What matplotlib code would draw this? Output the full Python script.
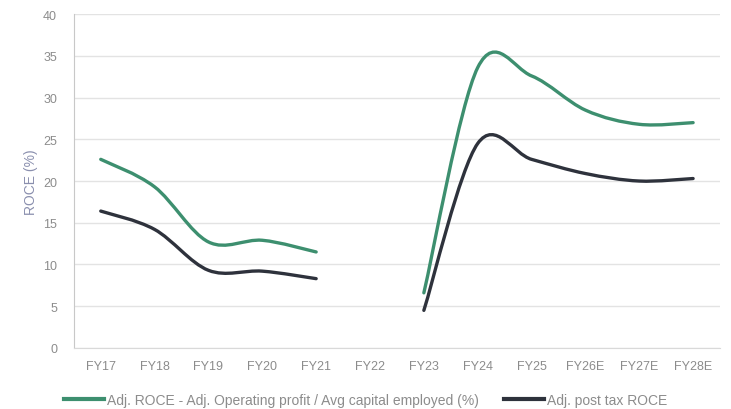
import numpy as np
import matplotlib
matplotlib.use("Agg")
import matplotlib.pyplot as plt
from matplotlib.path import Path
from matplotlib.patches import PathPatch
from matplotlib.lines import Line2D

# Data
years = ["FY17", "FY18", "FY19", "FY20", "FY21", "FY22", "FY23",
         "FY24", "FY25", "FY26E", "FY27E", "FY28E"]
adj_roce = [22.6, 19.3, 12.7, 12.9, 11.5, np.nan, 6.6,
            33.6, 32.6, 28.5, 26.8, 27.0]
post_tax_roce = [16.4, 14.2, 9.3, 9.2, 8.3, np.nan, 4.5,
                 24.5, 22.6, 20.9, 20.0, 20.3]

green = "#3d8f6f"
dark = "#2e323c"
grey_txt = "#8c8c8c"


def smooth_path(x, y):
    # Excel-style smoothed line: cubic Bezier through each run of valid points
    verts, codes = [], []
    x = np.asarray(x, float)
    y = np.asarray(y, float)
    ok = ~np.isnan(y)
    runs, cur = [], []
    for i in range(len(y)):
        if ok[i]:
            cur.append(i)
        elif cur:
            runs.append(cur)
            cur = []
    if cur:
        runs.append(cur)
    for r in runs:
        px, py = x[r], y[r]
        n = len(px)
        verts.append((px[0], py[0]))
        codes.append(Path.MOVETO)
        for i in range(n - 1):
            i0 = max(i - 1, 0)
            i3 = min(i + 2, n - 1)
            c1 = (px[i] + (px[i + 1] - px[i0]) / 6, py[i] + (py[i + 1] - py[i0]) / 6)
            c2 = (px[i + 1] - (px[i3] - px[i]) / 6, py[i + 1] - (py[i3] - py[i]) / 6)
            verts += [c1, c2, (px[i + 1], py[i + 1])]
            codes += [Path.CURVE4] * 3
    return Path(verts, codes)


plt.rcParams["font.family"] = ["Liberation Sans", "DejaVu Sans"]

fig = plt.figure(figsize=(7.31, 4.10), dpi=100)
ax = fig.add_axes([0.101, 0.149, 0.884, 0.814])

xs = np.arange(len(years))
for vals, col in [(adj_roce, green), (post_tax_roce, dark)]:
    ax.add_patch(PathPatch(smooth_path(xs, vals), facecolor="none",
                           edgecolor=col, lw=2.4, capstyle="round", zorder=3))

ax.set_xlim(-0.5, len(years) - 0.5)
ax.set_ylim(0, 40)
ax.set_yticks(range(0, 41, 5))
ax.set_xticks(xs)
ax.set_xticklabels(years)
ax.tick_params(axis="both", length=0, colors=grey_txt, labelsize=9)
ax.tick_params(axis="x", pad=9)
ax.tick_params(axis="y", pad=12)
ax.grid(axis="y", color="#e3e3e3", lw=1)
ax.set_axisbelow(True)
for s in ["top", "right"]:
    ax.spines[s].set_visible(False)
ax.spines["left"].set_color("#c8c8c8")
ax.spines["bottom"].set_color("#d9d9d9")
ax.set_ylabel("ROCE (%)", color="#8a8fae", fontsize=10, labelpad=4)

handles = [Line2D([], [], color=green, lw=3),
           Line2D([], [], color=dark, lw=3)]
labels = ["Adj. ROCE - Adj. Operating profit / Avg capital employed (%)",
          "Adj. post tax ROCE"]
fig.legend(handles, labels, loc="lower center", ncol=2, frameon=False,
           bbox_to_anchor=(0.5, -0.025), fontsize=10, handlelength=2.9,
           handletextpad=0.2, columnspacing=1.8, labelcolor=grey_txt)

fig.savefig("out.png", dpi=100)
